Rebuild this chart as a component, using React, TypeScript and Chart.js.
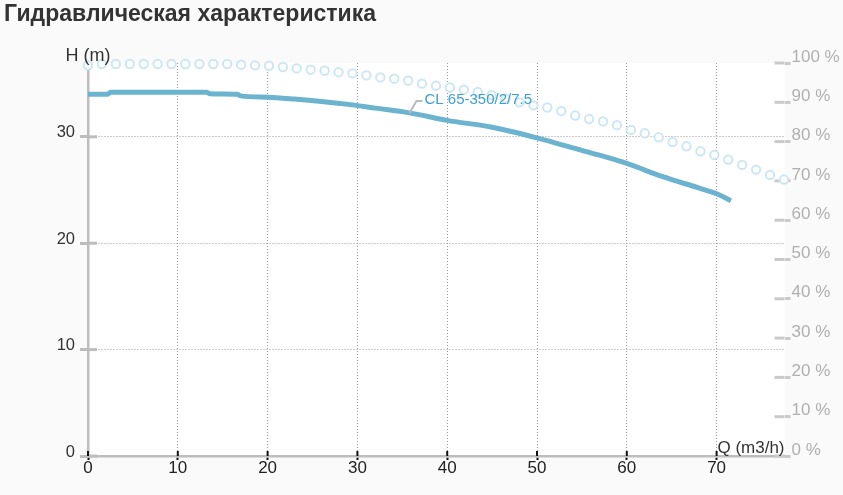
import { useEffect, useRef } from "react";
import Chart from "chart.js/auto";

// Pump curve: head H (m) against flow Q (m3/h)
const FLOW_Q = [0, 2.2, 2.5, 13.2, 13.6, 16.6, 17.0, 20, 23, 26, 29, 32, 35.8, 40, 45, 50, 53, 56, 60, 64, 68, 70, 71.6];
const HEAD_H = [34.0, 34.0, 34.18, 34.18, 34.05, 34.0, 33.85, 33.72, 33.55, 33.33, 33.05, 32.7, 32.25, 31.55, 30.9, 29.9, 29.2, 28.5, 27.5, 26.25, 25.2, 24.65, 24.0];
const LABEL_INDEX = 12;
const CURVE_NAME = "CL 65-350/2/7.5";

// Efficiency markers (right axis, %)
const EFF_Q = [
    0, 1.55, 3.1, 4.65, 6.2, 7.75, 9.3, 10.85, 12.4, 13.95,
    15.5, 17.05, 18.6, 20.15, 21.7, 23.25, 24.8, 26.35, 27.9, 29.45,
    31, 32.55, 34.1, 35.65, 37.2, 38.75, 40.3, 41.85, 43.4, 44.95,
    46.5, 48.05, 49.6, 51.15, 52.7, 54.25, 55.8, 57.35, 58.9, 60.45,
    62, 63.55, 65.1, 66.65, 68.2, 69.75, 71.3, 72.85, 74.4, 75.95, 77.5,
];
const EFF_PCT = [
    99.4, 99.75, 99.75, 99.75, 99.75, 99.75, 99.75, 99.75, 99.75, 99.75,
    99.75, 99.57, 99.39, 99.31, 98.98, 98.63, 98.3, 98.04, 97.66, 97.36,
    96.85, 96.34, 96.01, 95.5, 94.74, 94.23, 93.77, 93.21, 92.65, 91.81,
    90.93, 89.99, 89.22, 88.69, 87.75, 86.65, 85.76, 85.15, 84.19, 82.97,
    82.11, 81.09, 79.87, 78.8, 77.53, 76.61, 75.42, 74.07, 72.88, 71.53, 70.34,
];

const X_TICKS = [0, 10, 20, 30, 40, 50, 60, 70];
const H_TICKS = [0, 10, 20, 30];
const EFF_TICKS = [0, 10, 20, 30, 40, 50, 60, 70, 80, 90, 100];

const FONT = "'Liberation Sans', Arial, sans-serif";

const decorations = {
    id: "decorations",
    beforeDraw(chart: any) {
        const { ctx, chartArea: a } = chart;
        ctx.save();
        ctx.fillStyle = "#ffffff";
        ctx.fillRect(a.left, a.top, a.right - a.left, a.bottom - a.top);
        ctx.restore();
    },
    beforeDatasetsDraw(chart: any) {
        const { ctx, chartArea: a, scales } = chart;
        const seg = (x1: number, y1: number, x2: number, y2: number) => {
            ctx.beginPath();
            ctx.moveTo(x1, y1);
            ctx.lineTo(x2, y2);
            ctx.stroke();
        };
        ctx.save();
        // inner halves of the axis tick marks
        ctx.lineWidth = 3;
        ctx.strokeStyle = "#bdbdbd";
        H_TICKS.forEach(v => {
            const y = scales.y.getPixelForValue(v);
            seg(a.left, y, a.left + 9, y);
        });
        ctx.strokeStyle = "#cacaca";
        EFF_TICKS.forEach(v => {
            const y = scales.y1.getPixelForValue(v);
            seg(a.right - 10, y, a.right, y);
        });
        ctx.lineWidth = 2;
        ctx.strokeStyle = "#111111";
        X_TICKS.forEach(v => {
            const x = scales.x.getPixelForValue(v);
            seg(x, a.bottom - 5, x, a.bottom);
        });
        ctx.restore();
    },
    afterDatasetsDraw(chart: any) {
        const { ctx, chartArea: a } = chart;
        ctx.save();
        ctx.fillStyle = "#333333";
        ctx.textBaseline = "alphabetic";
        ctx.font = `18px ${FONT}`;
        ctx.textAlign = "center";
        ctx.fillText("H (m)", a.left, a.top - 2.5);
        ctx.font = `17px ${FONT}`;
        ctx.textAlign = "right";
        ctx.fillText("Q (m3/h)", a.right, a.bottom - 3);

        // curve name with its leader line
        const pt = chart.getDatasetMeta(0).data[LABEL_INDEX];
        if (pt) {
            ctx.strokeStyle = "#bbbbbb";
            ctx.lineWidth = 2;
            ctx.beginPath();
            ctx.moveTo(pt.x, pt.y);
            ctx.lineTo(pt.x + 7, pt.y - 12);
            ctx.lineTo(pt.x + 13, pt.y - 12);
            ctx.stroke();
            ctx.font = `15px ${FONT}`;
            ctx.fillStyle = "#3d9fd3";
            ctx.textAlign = "left";
            ctx.textBaseline = "middle";
            ctx.fillText(CURVE_NAME, pt.x + 15, pt.y - 13.5);
        }
        ctx.restore();
    },
};

export default function App() {
    const canvasRef = useRef<HTMLCanvasElement>(null);
    const chartRef = useRef<Chart | null>(null);

    useEffect(() => {
        if (!canvasRef.current) return;
        if (chartRef.current) chartRef.current.destroy();

        Chart.defaults.font.family = FONT;

        chartRef.current = new Chart(canvasRef.current, {
            type: "line",
            data: {
                datasets: [
                    {
                        label: "H",
                        data: FLOW_Q.map((q, i) => ({ x: q, y: HEAD_H[i] })),
                        yAxisID: "y",
                        borderColor: "#6cb3cf",
                        borderWidth: 5,
                        pointRadius: 0,
                        cubicInterpolationMode: "monotone",
                        fill: false,
                        clip: false as any,
                    },
                    {
                        label: "eta",
                        data: EFF_Q.map((q, i) => ({ x: q, y: EFF_PCT[i] })),
                        yAxisID: "y1",
                        showLine: false,
                        pointRadius: 4.2,
                        pointBorderWidth: 2,
                        pointBorderColor: "#cde6f4",
                        pointBackgroundColor: "#ffffff",
                        clip: false as any,
                    },
                ],
            },
            options: {
                animation: false,
                responsive: true,
                maintainAspectRatio: false,
                events: [],
                layout: { padding: { top: 63, left: 0, right: 0, bottom: 0 } },
                plugins: {
                    legend: { display: false },
                    tooltip: { enabled: false },
                },
                scales: {
                    x: {
                        type: "linear",
                        min: 0,
                        max: 77.56,
                        afterBuildTicks: (s: any) => { s.ticks = X_TICKS.map(v => ({ value: v })); },
                        afterFit: (s: any) => { s.height = 39; },
                        grid: {
                            color: "#9a9a9a",
                            lineWidth: 1,
                            tickLength: 4,
                            tickColor: "#111111",
                            tickWidth: 2,
                            tickBorderDash: [],
                        },
                        border: { display: true, color: "#bdbdbd", width: 2.5, dash: [1, 2] },
                        ticks: { color: "#222222", font: { size: 17 }, padding: -2, maxRotation: 0 },
                    },
                    y: {
                        type: "linear",
                        position: "left",
                        min: 0,
                        max: 36.94,
                        afterBuildTicks: (s: any) => { s.ticks = H_TICKS.map(v => ({ value: v })); },
                        afterFit: (s: any) => { s.width = 88; },
                        grid: {
                            color: "#9a9a9a",
                            lineWidth: 1,
                            tickLength: 8,
                            tickColor: "#bdbdbd",
                            tickWidth: 3,
                            tickBorderDash: [],
                        },
                        border: { display: true, color: "#bdbdbd", width: 2.5, dash: [1, 2] },
                        ticks: { color: "#333333", font: { size: 16.5 }, padding: 5, labelOffset: -4 },
                    },
                    y1: {
                        type: "linear",
                        position: "right",
                        min: 0,
                        max: 100,
                        afterBuildTicks: (s: any) => { s.ticks = EFF_TICKS.map(v => ({ value: v })); },
                        afterFit: (s: any) => { s.width = 58.5; },
                        grid: {
                            drawOnChartArea: false,
                            tickLength: 6,
                            tickColor: "#cacaca",
                            tickWidth: 3,
                            tickBorderDash: [],
                        },
                        border: { display: false },
                        ticks: {
                            color: "#b0b0b0",
                            font: { size: 17 },
                            padding: 1,
                            labelOffset: -6,
                            callback: (v: any) => `${v} %`,
                        },
                    },
                },
            },
            plugins: [decorations],
        });

        return () => {
            if (chartRef.current) {
                chartRef.current.destroy();
                chartRef.current = null;
            }
        };
    }, []);

    return (
        <div style={{ position: "fixed", left: 0, top: 0, width: 843, height: 495, background: "#fafafa" }}>
            <div
                style={{
                    position: "absolute", left: 4, top: 2, font: `bold 23px ${FONT}`,
                    lineHeight: "23px", color: "#333333", whiteSpace: "nowrap", zIndex: 1,
                }}
            >
                Гидравлическая характеристика
            </div>
            <canvas ref={canvasRef}></canvas>
        </div>
    );
}
